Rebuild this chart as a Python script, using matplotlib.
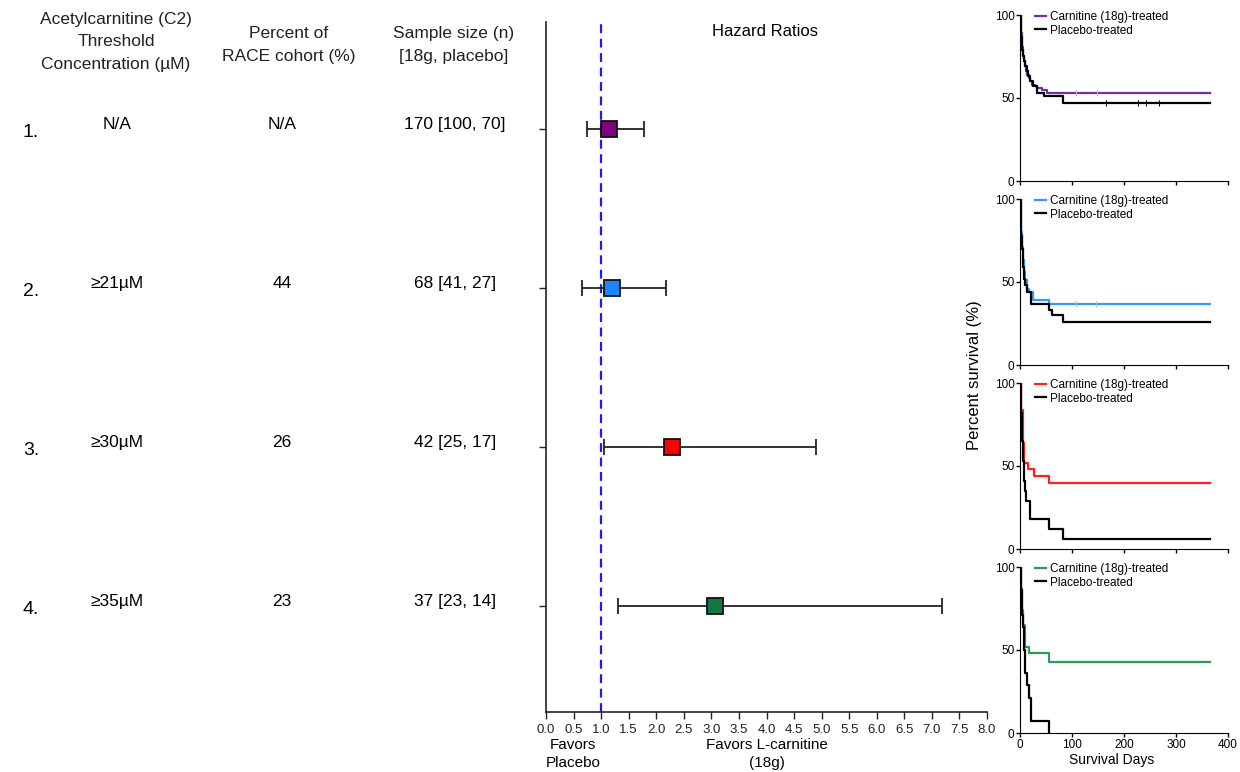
import matplotlib
matplotlib.use("Agg")
import matplotlib.pyplot as plt
from matplotlib.transforms import blended_transform_factory

plt.rcParams['font.family'] = ['Liberation Sans', 'DejaVu Sans']

# forest plot data
row_num = ["1.", "2.", "3.", "4."]
thresholds = ["N/A", "\u226521\u00b5M", "\u226530\u00b5M", "\u226535\u00b5M"]
percents = ["N/A", "44", "26", "23"]
samples = ["170 [100, 70]", "68 [41, 27]", "42 [25, 17]", "37 [23, 14]"]
hr = [1.14, 1.20, 2.28, 3.07]
ci_low = [0.74, 0.66, 1.06, 1.31]
ci_high = [1.78, 2.18, 4.89, 7.19]
marker_colors = ["#800080", "#1a85ff", "#ff0000", "#127a3e"]
line_colors = ["#7030a0", "#3399ff", "#ff2020", "#2e9a57"]
xticks = [i / 2 for i in range(17)]

# survival curves (days, percent)
carn_t = [
    [0, 1, 2, 3, 4, 5, 6, 8, 10, 12, 14, 17, 20, 24, 28, 33, 42, 52, 365],
    [0, 1, 2, 3, 5, 7, 10, 13, 17, 25, 55, 365],
    [0, 2, 5, 8, 16, 27, 55, 365],
    [0, 2, 4, 6, 9, 18, 56, 365],
]
carn_s = [
    [100, 94, 89, 85, 81, 78, 75, 72, 69, 66, 64, 62, 60, 58, 57, 56, 55, 53, 53],
    [100, 90, 80, 71, 63, 56, 51, 46, 44, 39, 37, 37],
    [100, 84, 64, 52, 48, 44, 40, 40],
    [100, 87, 74, 65, 52, 48, 43, 43],
]
plac_t = [
    [0, 1, 2, 3, 4, 6, 8, 10, 13, 16, 20, 25, 32, 46, 82, 365],
    [0, 1, 2, 3, 5, 7, 9, 13, 21, 55, 62, 83, 365],
    [0, 1, 3, 5, 7, 9, 12, 20, 55, 82, 365],
    [0, 1, 3, 5, 7, 9, 13, 17, 22, 56],
]
plac_s = [
    [100, 93, 87, 83, 79, 75, 72, 69, 66, 63, 60, 57, 53, 51, 47, 47],
    [100, 85, 78, 70, 59, 52, 48, 44, 37, 33, 30, 26, 26],
    [100, 82, 65, 53, 41, 35, 29, 18, 12, 6, 6],
    [100, 86, 71, 64, 50, 36, 29, 21, 7, 0],
]
# censored observations
carn_cens = [[108, 148], [107, 147], [], []]
plac_cens = [[165, 226, 242, 268], [], [], []]


fig = plt.figure(figsize=(12.4, 7.72), dpi=100)
W, H = 1240, 772


def fx(px):
    return px / W


def fy(py):
    return 1 - py / H


# ---- forest plot ----
ax = fig.add_axes([fx(546), fy(712), fx(987 - 546), (712 - 22) / H])
rows = [4, 3, 2, 1]
for i in range(4):
    ax.errorbar(hr[i], rows[i], xerr=[[hr[i] - ci_low[i]], [ci_high[i] - hr[i]]],
                fmt='none', ecolor="#222222", elinewidth=1.3, capsize=6, capthick=1.3, zorder=2)
    ax.plot(hr[i], rows[i], marker='s', markersize=11, color=marker_colors[i],
            markeredgecolor='#111111', markeredgewidth=1.3, linestyle='none', zorder=3)
ax.axvline(1.0, color='#1a1aff', linestyle=(0, (4, 2.5)), linewidth=1.6, zorder=1)
ax.set_xlim(0, 8)
ax.set_ylim(0.333, 4.673)
ax.set_xticks(xticks)
ax.set_xticklabels(["%.1f" % t for t in xticks], fontsize=9.5)
ax.set_yticks(rows)
ax.set_yticklabels([])
ax.tick_params(axis='both', direction='out', length=5, width=1, colors='#222222')
ax.spines['top'].set_visible(False)
ax.spines['right'].set_visible(False)
for s in ['left', 'bottom']:
    ax.spines[s].set_linewidth(1.2)
    ax.spines[s].set_color('#222222')
ax.set_facecolor('none')

fig.text(fx(765), fy(32), "Hazard Ratios", ha='center', va='center', fontsize=12)
fig.text(fx(573), fy(754), "Favors\nPlacebo", ha='center', va='center', fontsize=11, linespacing=1.3)
fig.text(fx(767), fy(754), "Favors L-carnitine\n(18g)", ha='center', va='center', fontsize=11, linespacing=1.3)

# ---- table columns ----
tr = blended_transform_factory(fig.transFigure, ax.transData)
for i in range(4):
    ax.text(fx(31), rows[i] - 0.02, row_num[i], transform=tr, ha='center', va='center', fontsize=14, clip_on=False)
    ax.text(fx(117), rows[i] + 0.03, thresholds[i], transform=tr, ha='center', va='center', fontsize=12.5, clip_on=False)
    ax.text(fx(282), rows[i] + 0.03, percents[i], transform=tr, ha='center', va='center', fontsize=12.5, clip_on=False)
    ax.text(fx(455), rows[i] + 0.03, samples[i], transform=tr, ha='center', va='center', fontsize=12.5, clip_on=False)

fig.text(fx(116), fy(42), "Acetylcarnitine (C2)\nThreshold\nConcentration (\u00b5M)", ha='center', va='center',
         fontsize=12.5, linespacing=1.62, color='#222222')
fig.text(fx(289), fy(45), "Percent of\nRACE cohort (%)", ha='center', va='center', fontsize=12.5,
         linespacing=1.62, color='#222222')
fig.text(fx(454), fy(45), "Sample size (n)\n[18g, placebo]", ha='center', va='center', fontsize=12.5,
         linespacing=1.62, color='#222222')

# ---- survival panels ----
tops = [15, 199, 383, 567]
for i in range(4):
    top = tops[i]
    bot = top + 166
    kax = fig.add_axes([fx(1020), fy(bot), fx(1228 - 1020), 166 / H])
    kax.step(carn_t[i], carn_s[i], where='post', color=line_colors[i], linewidth=1.6,
             label="Carnitine (18g)-treated")
    kax.step(plac_t[i], plac_s[i], where='post', color='black', linewidth=1.6,
             label="Placebo-treated")
    if carn_cens[i]:
        kax.plot(carn_cens[i], [carn_s[i][-1]] * len(carn_cens[i]), linestyle='none', marker='|',
                 markersize=4, color='#bbbbbb', markeredgewidth=0.8)
    if plac_cens[i]:
        kax.plot(plac_cens[i], [plac_s[i][-1]] * len(plac_cens[i]), linestyle='none', marker='|',
                 markersize=4, color='black', markeredgewidth=0.8)
    kax.set_xlim(0, 400)
    kax.set_ylim(0, 100)
    kax.set_yticks([0, 50, 100])
    kax.set_xticks([0, 100, 200, 300, 400])
    kax.tick_params(axis='both', direction='out', length=3, width=1, labelsize=8.5, pad=1)
    if i < 3:
        kax.set_xticklabels([])
    kax.spines['top'].set_visible(False)
    kax.spines['right'].set_visible(False)
    kax.margins(0)
    kax.legend(loc='upper left', bbox_to_anchor=(0.05, 1.05), frameon=False, fontsize=8.5,
               handlelength=0.9, handletextpad=0.4, labelspacing=0.1, borderaxespad=0)

fig.text(fx(1112), fy(760), "Survival Days", ha='center', va='center', fontsize=10)
fig.text(fx(975), fy(375), "Percent survival (%)", ha='center', va='center', rotation=90, fontsize=12)

fig.savefig("out.png", dpi=100)
